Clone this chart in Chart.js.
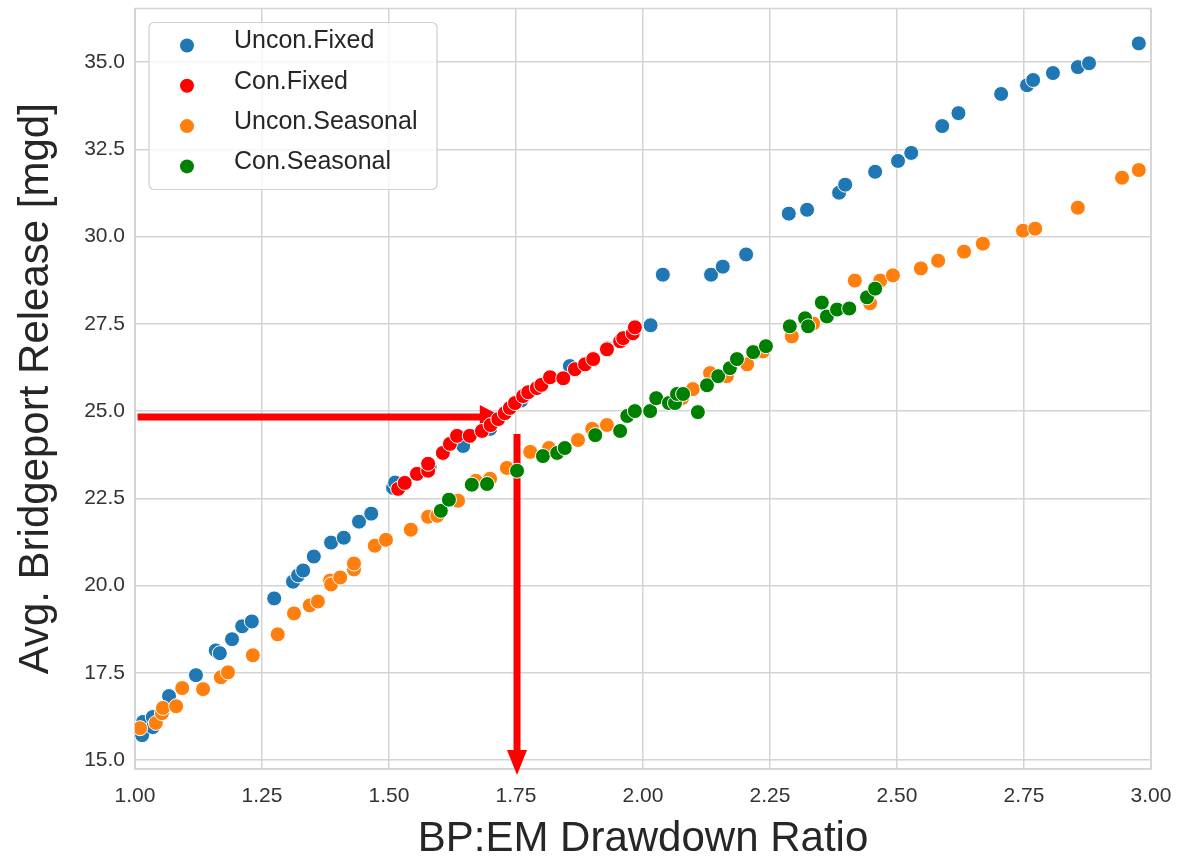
<!DOCTYPE html>
<html>
<head>
<meta charset="utf-8">
<script src="https://cdn.jsdelivr.net/npm/chart.js@4.4.0/dist/chart.umd.min.js"></script>
<style>
html, body { margin: 0; padding: 0; background: #fff; }
#wrap { width: 1181px; height: 860px; }
</style>
</head>
<body>
<div id="wrap"><canvas id="chart-area"></canvas></div>
<script>
// values
var seriesNames = ['Uncon.Fixed', 'Con.Fixed', 'Uncon.Seasonal', 'Con.Seasonal'];
var seriesColors = ['#1f77b4', '#ff0000', '#ff7f0e', '#008000'];

var unconFixedX = [1.014,1.016,1.035,1.035,1.067,1.12,1.159,1.167,1.191,1.211,1.23,1.274,1.311,1.321,1.331,1.352,1.386,1.411,1.441,1.465,1.508,1.512,1.58,1.646,1.699,1.76,1.856,1.93,2.015,2.039,2.134,2.157,2.203,2.287,2.323,2.386,2.398,2.457,2.502,2.528,2.589,2.621,2.705,2.756,2.768,2.807,2.856,2.878,2.976];
var unconFixedY = [15.71,16.09,15.94,16.23,16.83,17.43,18.14,18.06,18.46,18.83,18.97,19.63,20.11,20.29,20.43,20.83,21.23,21.37,21.83,22.06,22.8,22.95,23.4,24.0,24.49,25.3,26.29,26.8,27.46,28.91,28.91,29.14,29.49,30.66,30.77,31.26,31.49,31.86,32.17,32.4,33.17,33.54,34.09,34.34,34.49,34.69,34.86,34.97,35.54];

var conFixedX = [1.518,1.531,1.555,1.577,1.577,1.606,1.62,1.634,1.659,1.683,1.70,1.715,1.728,1.738,1.748,1.764,1.774,1.791,1.80,1.817,1.843,1.866,1.886,1.902,1.929,1.955,1.961,1.98,1.984];
var conFixedY = [22.77,22.94,23.2,23.29,23.49,23.8,24.06,24.29,24.29,24.43,24.6,24.77,24.94,25.09,25.23,25.43,25.54,25.66,25.75,25.97,25.94,26.2,26.34,26.49,26.77,27.0,27.09,27.23,27.4];

var unconSeasX = [1.01,1.041,1.053,1.055,1.081,1.093,1.134,1.169,1.183,1.232,1.281,1.313,1.344,1.36,1.384,1.386,1.404,1.431,1.431,1.472,1.494,1.543,1.577,1.595,1.636,1.671,1.699,1.732,1.778,1.815,1.872,1.9,1.929,2.077,2.098,2.132,2.165,2.205,2.236,2.293,2.335,2.417,2.447,2.467,2.492,2.547,2.581,2.632,2.669,2.748,2.772,2.856,2.943,2.976];
var unconSeasY = [15.91,16.06,16.34,16.49,16.54,17.06,17.03,17.37,17.51,18.0,18.6,19.2,19.43,19.54,20.14,20.03,20.23,20.46,20.63,21.14,21.31,21.6,21.97,22.0,22.43,23.0,23.06,23.37,23.83,23.94,24.17,24.49,24.6,25.37,25.63,26.09,26.0,26.34,26.71,27.14,27.51,28.74,28.09,28.74,28.89,29.09,29.31,29.57,29.8,30.17,30.23,30.83,31.69,31.91];

var conSeasX = [1.602,1.618,1.663,1.693,1.752,1.803,1.831,1.846,1.906,1.955,1.969,1.984,2.014,2.026,2.051,2.063,2.067,2.079,2.108,2.126,2.148,2.171,2.185,2.217,2.242,2.289,2.319,2.325,2.352,2.362,2.382,2.406,2.441,2.457];
var conSeasY = [22.14,22.46,22.89,22.91,23.29,23.71,23.8,23.94,24.31,24.43,24.86,25.0,25.0,25.37,25.23,25.23,25.49,25.49,24.97,25.74,26.0,26.23,26.49,26.69,26.86,27.43,27.66,27.43,28.11,27.71,27.91,27.94,28.26,28.51];

var xTicks = [1.00,1.25,1.50,1.75,2.00,2.25,2.50,2.75,3.00];
var yTicks = [15.0,17.5,20.0,22.5,25.0,27.5,30.0,32.5,35.0];

// red guide arrows, in data units: [x0, y0, x1, y1]
var arrowAcross = [1.005, 24.83, 1.724, 24.83];
var arrowDown = [1.752, 24.34, 1.752, 14.57];

var FONT = '"Liberation Sans", Arial, sans-serif';
var GRID = '#d4d4d4';

let toPoints = function (xs, ys) {
	return xs.map((x, i) => ({ x: x, y: ys[i] }));
}

let drawArrow = function (ctx, x0, y0, x1, y1, headLen, headHalf) {
	var ang = Math.atan2(y1 - y0, x1 - x0);
	var bx = x1 - headLen * Math.cos(ang), by = y1 - headLen * Math.sin(ang);
	ctx.strokeStyle = 'red';
	ctx.fillStyle = 'red';
	ctx.lineWidth = 7;
	ctx.lineCap = 'butt';
	ctx.beginPath();
	ctx.moveTo(x0, y0);
	ctx.lineTo(bx + 1 * Math.cos(ang), by + 1 * Math.sin(ang));
	ctx.stroke();
	ctx.beginPath();
	ctx.moveTo(x1, y1);
	ctx.lineTo(bx - headHalf * Math.sin(ang), by + headHalf * Math.cos(ang));
	ctx.lineTo(bx + headHalf * Math.sin(ang), by - headHalf * Math.cos(ang));
	ctx.closePath();
	ctx.fill();
}

var framePlugin = {
	id: 'frame',
	beforeDatasetsDraw: function (chart) {
		var ctx = chart.ctx, a = chart.chartArea;
		var xs = chart.scales.x, ys = chart.scales.y;
		ctx.save();
		ctx.strokeStyle = GRID;
		ctx.lineWidth = 1.5;
		ctx.strokeRect(a.left, a.top, a.right - a.left, a.bottom - a.top);
		drawArrow(ctx, xs.getPixelForValue(arrowAcross[0]), ys.getPixelForValue(arrowAcross[1]),
			xs.getPixelForValue(arrowAcross[2]), ys.getPixelForValue(arrowAcross[3]), 23, 12);
		drawArrow(ctx, xs.getPixelForValue(arrowDown[0]), ys.getPixelForValue(arrowDown[1]),
			xs.getPixelForValue(arrowDown[2]), ys.getPixelForValue(arrowDown[3]), 25, 10);
		ctx.restore();
	}
};

var legendPlugin = {
	id: 'boxLegend',
	afterDatasetsDraw: function (chart) {
		var ctx = chart.ctx, a = chart.chartArea;
		var bx = a.left + 14, by = a.top + 14, bw = 288, bh = 167;
		ctx.save();
		ctx.beginPath();
		ctx.roundRect(bx, by, bw, bh, 5);
		ctx.fillStyle = 'rgba(255,255,255,0.8)';
		ctx.fill();
		ctx.strokeStyle = '#d0d0d0';
		ctx.lineWidth = 1.2;
		ctx.stroke();
		ctx.font = '25px ' + FONT;
		ctx.textBaseline = 'middle';
		ctx.textAlign = 'left';
		chart.data.datasets.forEach(function (ds, i) {
			var rowY = by + 23 + i * 40.3;
			ctx.beginPath();
			ctx.arc(bx + 38, rowY, 7, 0, Math.PI * 2);
			ctx.fillStyle = ds.backgroundColor;
			ctx.fill();
			ctx.fillStyle = '#262626';
			ctx.fillText(ds.label, bx + 85, rowY - 4);
		});
		ctx.restore();
	}
};

let buildScatter = function () {
	var ctx = document.getElementById('chart-area').getContext('2d');
	var allX = [unconFixedX, conFixedX, unconSeasX, conSeasX];
	var allY = [unconFixedY, conFixedY, unconSeasY, conSeasY];
	var drawOrder = [4, 2, 3, 1];
	var datasets = seriesNames.map(function (name, i) {
		return {
			label: name,
			data: toPoints(allX[i], allY[i]),
			backgroundColor: seriesColors[i],
			borderColor: '#ffffff',
			borderWidth: 1,
			pointRadius: 7.5,
			pointHoverRadius: 7.5,
			order: drawOrder[i]
		};
	});
	var tickFont = { family: FONT, size: 21 };
	var config = {
		type: 'scatter',
		data: { datasets: datasets },
		options: {
			responsive: true,
			maintainAspectRatio: false,
			animation: false,
			events: [],
			layout: { padding: { left: 0, top: 6, right: 30, bottom: 0 } },
			plugins: { legend: { display: false }, tooltip: { enabled: false } },
			scales: {
				x: {
					type: 'linear',
					min: 1,
					max: 3,
					afterBuildTicks: function (s) { s.ticks = xTicks.map(v => ({ value: v })); },
					afterFit: function (s) { s.height = 91; s.paddingLeft = 0; s.paddingRight = 0; },
					ticks: { callback: v => v.toFixed(2), font: tickFont, color: '#333333', padding: 15, maxRotation: 0, autoSkip: false },
					grid: { color: GRID, lineWidth: 1.5, drawTicks: false },
					border: { color: GRID, width: 1.5 },
					title: { display: true, text: 'BP:EM Drawdown Ratio', color: '#262626',
						font: { family: FONT, size: 42, lineHeight: 1 }, padding: { top: 0, bottom: 0 } }
				},
				y: {
					type: 'linear',
					min: 14.74,
					max: 36.54,
					afterBuildTicks: function (s) { s.ticks = yTicks.map(v => ({ value: v })); },
					afterFit: function (s) { s.width = 135; s.paddingTop = 0; s.paddingBottom = 0; },
					ticks: { callback: v => v.toFixed(1), font: tickFont, color: '#333333', padding: 10, autoSkip: false },
					grid: { color: GRID, lineWidth: 1.5, drawTicks: false },
					border: { color: GRID, width: 1.5 },
					title: { display: true, text: 'Avg. Bridgeport Release [mgd]', color: '#262626',
						font: { family: FONT, size: 42, lineHeight: 1 }, padding: { top: 15, bottom: 0 } }
				}
			}
		},
		plugins: [framePlugin, legendPlugin]
	};
	window.myScatter = new Chart(ctx, config);
}

buildScatter();
</script>
</body>
</html>
